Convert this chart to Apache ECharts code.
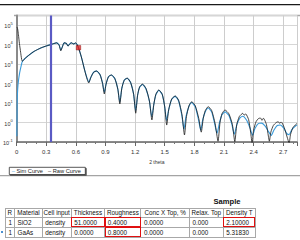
<!DOCTYPE html>
<html><head><meta charset="utf-8">
<script src="https://cdn.jsdelivr.net/npm/echarts@6/dist/echarts.min.js"></script>
<style>
html,body{margin:0;padding:0;background:#fff;width:300px;height:240px;overflow:hidden;font-family:'Liberation Sans',Arial,sans-serif}
#chart{position:absolute;left:0;top:0;width:300px;height:240px}
#title{position:absolute;left:200px;width:54px;top:197px;font-size:7.6px;font-weight:bold;text-align:center;line-height:9px;color:#111}
#tbl{position:absolute;left:4.5px;top:208.3px;border-collapse:collapse;table-layout:fixed;font-size:6.3px;color:#111}
#tbl td,#tbl th{border:1px solid #a8a8a8;padding:0 0 0 2.5px;white-space:nowrap;overflow:hidden;text-align:left;font-weight:normal}
#tbl th{text-align:center;padding:0;height:7.4px;line-height:7.4px}
#tbl td{height:9px;line-height:9px}
#tbl td.red{outline:1.4px solid #e01010;outline-offset:-1.4px}
#mark{position:absolute;left:0.8px;top:231px;width:2px;height:1.5px;background:#4a90d0}
</style></head>
<body>
<div id="chart"></div>
<div id="title">Sample</div>
<table id="tbl"></table>
<div id="mark"></div>
<script>
// ---- data ----
const rawTheta = [0.004,0.010,0.018,0.028,0.040,0.050,0.058,0.075,0.103,0.135,
0.170,0.210,0.250,0.300,0.354,0.370,0.404,0.430,0.447,0.464,
0.480,0.504,0.520,0.537,0.554,0.577,0.597,0.612,0.626,0.655,
0.690,0.715,0.730,0.750,0.780,0.810,0.845,0.870,0.888,0.905,
0.930,0.960,0.995,1.025,1.045,1.065,1.090,1.120,1.155,1.185,
1.206,1.225,1.245,1.275,1.310,1.345,1.370,1.390,1.410,1.440,
1.475,1.500,1.520,1.540,1.570,1.607,1.640,1.675,1.700,1.720,
1.745,1.774,1.810,1.845,1.870,1.890,1.910,1.940,1.975,2.010,
2.040,2.060,2.080,2.110,2.150,2.185,2.210,2.230,2.255,2.275,
2.290,2.305,2.320,2.350,2.370,2.385,2.400,2.425,2.450,2.470,
2.485,2.500,2.530,2.550,2.560,2.575,2.600,2.630,2.650,2.665,
2.680,2.710,2.740,2.760,2.775,2.800,2.840];
const rawCounts = [79000,63000,32000,11200,4000,1800,1380,1740,2340,3160,
4270,5500,6900,8500,10200,11000,12300,9300,4800,7800,
12300,11500,8300,10700,12300,10700,12300,10000,6900,2340,
450,160,107,200,380,440,280,100,29,89,
224,275,178,50,8.9,56,151,190,112,28,
3,25,66,93,56,12.6,1.35,8.9,28,47,
28,6.3,0.74,4.5,16,23,14,2.5,0.23,2,
7.1,11.7,7.1,1.6,0.32,1.6,4,6.5,4.2,0.9,
0.11,1.0,2.8,4.4,2.8,0.8,0.105,0.8,2,2.6,
2.95,2.4,2.75,1.4,0.32,0.09,0.4,1.1,1.6,1.7,
1.3,1.65,0.8,0.2,0.11,0.32,0.7,1.0,1.1,0.9,
1.07,0.56,0.18,0.09,0.25,0.56,0.9];
const simTheta = [0.002,0.005,0.010,0.019,0.030,0.043,0.056,
0.075,0.103,0.135,0.170,0.210,0.250,0.300,0.354,0.370,0.404,0.430,0.447,0.464,0.480,0.504,0.520,0.537,0.554,0.577,0.597,0.612,0.626,
0.655,0.690,0.715,0.732,0.752,0.780,0.810,0.845,0.870,0.888,
0.905,0.930,0.960,0.995,1.025,1.045,1.065,1.090,1.120,1.155,
1.185,1.205,1.225,1.245,1.275,1.310,1.345,1.368,1.390,1.410,
1.440,1.475,1.500,1.518,1.540,1.570,1.605,1.640,1.672,1.695,
1.715,1.745,1.772,1.810,1.842,1.865,1.885,1.910,1.940,1.975,
2.005,2.030,2.055,2.080,2.110,2.150,2.180,2.205,2.230,2.260,
2.290,2.330,2.365,2.390,2.415,2.450,2.480,2.520,2.555,2.580,
2.605,2.640,2.670,2.705,2.735,2.760,2.790,2.840];
const simCounts = [0.2,10,50,151,355,724,1320,
1740,2340,3160,4270,5500,6900,8500,10200,11000,12200,9500,5200,8000,12200,11400,8600,10800,12200,10800,12100,10000,6900,
2340,479,178,120,209,380,436,282,105,35,
93,224,275,174,52,11,56,148,186,110,
28,4,25,63,89,52,12,2,8.9,26,
45,27,6.3,1.26,4.5,15,22,13,2.5,0.45,
2,6.6,10.7,6.3,1.4,0.4,1.4,3.5,5.6,3.5,
0.9,0.28,1,2.5,3.5,2.3,0.8,0.25,0.76,1.66,
2.1,1.3,0.5,0.22,0.5,0.9,0.93,0.63,0.32,0.22,
0.4,0.7,0.74,0.52,0.28,0.24,0.45,0.76];
const cursorTheta = 0.354;
const markerPoint = [0.626, 6900];
const seriesNames = ['Sim Curve', 'Raw Curve'];
const tableTitle = 'Sample';
const tableHeaders = ['R','Material','Cell input','Thickness','Roughness','Conc X Top, %','Relax. Top','Density T'];
const tableRow1 = ['1','SiO2','density','51.0000','0.4000','0.0000','0.000','2.10000'];
const tableRow2 = ['1','GaAs','density','0.0000','0.8000','0.0000','0.000','5.31830'];
const redCells = [[0,3],[0,4],[1,4],[0,7]];

// ---- table ----
const colWidths = [9.5,27.7,29,33.6,36.2,48.5,33.7,32.3];
(function(){
  const t = document.getElementById('tbl');
  let html = '<colgroup>' + colWidths.map(w=>'<col style="width:'+w+'px">').join('') + '</colgroup>';
  html += '<tr>' + tableHeaders.map(h=>'<th>'+h+'</th>').join('') + '</tr>';
  [tableRow1, tableRow2].forEach((row, ri) => {
    html += '<tr>' + row.map((c, ci) => {
      const red = redCells.some(rc => rc[0]===ri && rc[1]===ci);
      const st = ci===0 ? ' style="padding-left:3px"' : '';
      return '<td' + (red ? ' class="red"' : '') + st + '>' + c + '</td>';
    }).join('') + '</tr>';
  });
  t.innerHTML = html;
  document.getElementById('title').textContent = tableTitle;
})();

function zip(xs, ys){ const n = Math.min(xs.length, ys.length); const o=[]; for(let i=0;i<n;i++) o.push([xs[i], ys[i]]); return o; }

const chart = echarts.init(document.getElementById('chart'), null, {renderer:'svg'});
const font = "'Liberation Sans', Arial, sans-serif";
chart.setOption({
  animation: false,
  textStyle: {fontFamily: font},
  grid: {left: 16.4, right: 0.3, top: 15.5, bottom: 98, containLabel: false},
  xAxis: {
    type: 'value', min: 0, max: 2.84, interval: 0.3,
    name: '2 theta', nameLocation: 'middle', nameGap: 13,
    nameTextStyle: {fontSize: 5, color: '#333', fontFamily: font},
    axisLine: {show: true, onZero: false, lineStyle: {color: '#666', width: 1.5}},
    axisTick: {show: true, length: 4, lineStyle: {color: '#666', width: 1}},
    minorTick: {show: true, splitNumber: 3, length: 2, lineStyle: {color: '#777', width: 1}},
    axisLabel: {fontSize: 6, color: '#333', margin: 7, fontFamily: font,
      formatter: v => { const k = v/0.3; return (Math.abs(k-Math.round(k))<1e-6 && v < 2.8) ? String(+v.toFixed(1)) : ''; }},
    splitLine: {show: true, lineStyle: {color: '#cdcdcd', width: 1}}
  },
  yAxis: {
    type: 'log', logBase: 10, min: 0.1, max: 310000, offset: 2,
    axisLine: {show: true, lineStyle: {color: '#8a8a8a', width: 2}},
    axisTick: {show: false},
    axisLabel: {margin: 2, color: '#333', fontFamily: font,
      rich: {b: {fontSize: 5.5, lineHeight: 8, verticalAlign: 'bottom', color: '#333', fontFamily: font},
             s: {fontSize: 4, lineHeight: 5, verticalAlign: 'top', color: '#333', fontFamily: font}},
      formatter: v => { const l = Math.log10(v); const e = Math.round(l); if (Math.abs(l-e) > 1e-6) return ''; return '{b|10}{s|' + e + '}'; }},
    splitLine: {show: true, lineStyle: {color: '#d6d6d6', width: 1}}
  },
  legend: {
    left: 6.7, top: 168, padding: 0, itemGap: 0, itemWidth: 0, itemHeight: 6, icon: 'none',
    data: seriesNames,
    textStyle: {fontSize: 5.7, color: '#222', lineHeight: 6, fontFamily: font,
      rich: {s: {color: '#3a9ad9', fontSize: 5.7, fontFamily: font}, r: {color: '#111', fontSize: 5.7, fontFamily: font}}},
    formatter: n => n === seriesNames[0] ? '{s|–} ' + n : '{r|–} ' + n
  },
  graphic: [
    {type: 'rect', silent: true, z: 0, shape: {x: 0, y: 4, width: 300, height: 1.2}, style: {fill: '#1a1a1a'}},
    {type: 'rect', silent: true, z: 0, shape: {x: 14, y: 14.8, width: 286, height: 1.4}, style: {fill: '#a6a6a6'}},
    {type: 'rect', silent: true, z: 0, shape: {x: 0, y: 175, width: 300, height: 1.3}, style: {fill: '#a4a4a4'}},
    {type: 'rect', silent: true, z: 1, shape: {x: 9.3, y: 167.3, width: 76, height: 7.2},
      style: {fill: '#fff', stroke: '#333', lineWidth: 0.8, shadowBlur: 0, shadowOffsetX: 1, shadowOffsetY: 1, shadowColor: '#555'}}
  ],
  series: [
    {name: seriesNames[0], type: 'line', data: zip(simTheta, simCounts), showSymbol: false, smooth: 0.2, z: 2,
      lineStyle: {color: '#3a9ad9', width: 1.1}, itemStyle: {color: '#3a9ad9'}},
    {name: seriesNames[1], type: 'line', data: zip(rawTheta, rawCounts), showSymbol: false, smooth: 0.2, z: 3,
      lineStyle: {color: '#1a1a1a', width: 1, opacity: 0.8}, itemStyle: {color: '#1a1a1a'},
      markLine: {silent: true, symbol: ['none','none'], label: {show: false}, animation: false,
        lineStyle: {color: '#5a5ac4', width: 2.2, type: 'solid'}, data: [{xAxis: cursorTheta}]}},
    {type: 'scatter', data: [markerPoint], symbol: 'rect', symbolSize: 4.5, z: 5,
      itemStyle: {color: '#e02424', borderColor: '#7a0000', borderWidth: 0.5}}
  ]
});
</script>
</body></html>
